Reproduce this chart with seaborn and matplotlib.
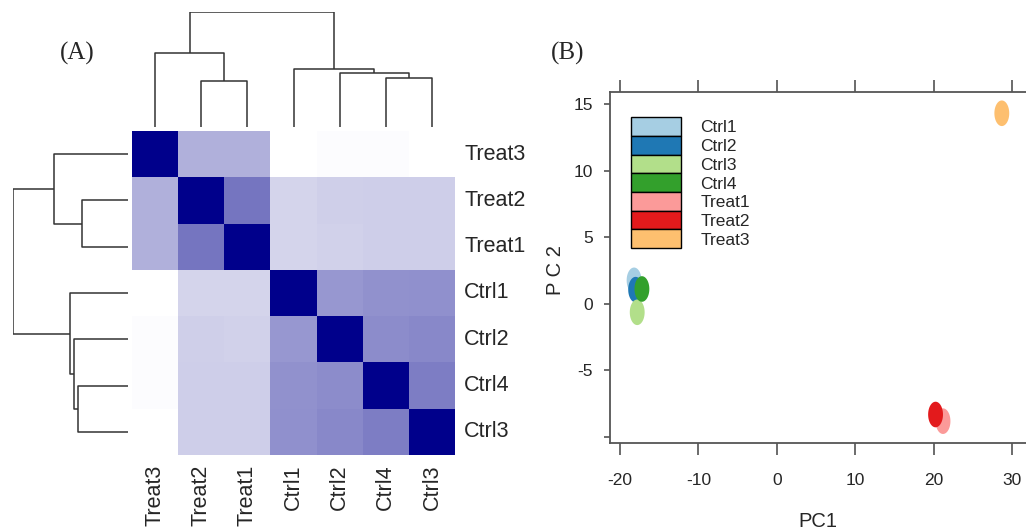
import numpy as np
import pandas as pd
import matplotlib
matplotlib.use("Agg")
import matplotlib.pyplot as plt
from matplotlib.colors import LinearSegmentedColormap
from matplotlib.patches import Patch
from matplotlib.path import Path
from matplotlib import font_manager
import seaborn as sns

# ---------------- data ----------------
samples_order = ["Treat3", "Treat2", "Treat1", "Ctrl1", "Ctrl2", "Ctrl4", "Ctrl3"]
corr_treat3 = [1.00, 0.31, 0.31, 0.00, 0.015, 0.015, 0.00]
corr_treat2 = [0.31, 1.00, 0.54, 0.17, 0.19, 0.195, 0.195]
corr_treat1 = [0.31, 0.54, 1.00, 0.17, 0.18, 0.195, 0.195]
corr_ctrl1 = [0.00, 0.17, 0.17, 1.00, 0.41, 0.43, 0.435]
corr_ctrl2 = [0.015, 0.19, 0.18, 0.41, 1.00, 0.45, 0.465]
corr_ctrl4 = [0.015, 0.195, 0.195, 0.43, 0.45, 1.00, 0.51]
corr_ctrl3 = [0.00, 0.195, 0.195, 0.435, 0.465, 0.51, 1.00]

# linkage merges: (left node, right node, height); leaves 0..6 in display order
merge_left = [1, 0, 5, 4, 3, 8]
merge_right = [2, 7, 6, 9, 10, 11]
merge_height = [0.46, 0.74, 0.494, 0.54, 0.58, 1.15]

pca_samples = ["Ctrl1", "Ctrl2", "Ctrl3", "Ctrl4", "Treat1", "Treat2", "Treat3"]
pca_pc1 = [-18.2, -18.0, -17.8, -17.2, 21.2, 20.25, 28.7]
pca_pc2 = [1.75, 1.05, -0.65, 1.1, -8.83, -8.33, 14.3]
x_ticks = [-20, -10, 0, 10, 20, 30]
y_ticks = [-10, -5, 0, 5, 10, 15]
y_ticklabels = ["", "-5", "0", "5", "10", "15"]

# ---------------- style ----------------
sns.set_style("white")
plt.rcParams["font.family"] = ["Liberation Sans", "DejaVu Sans"]
names = {f.name for f in font_manager.fontManager.ttflist}
narrow = "Liberation Sans Narrow" if "Liberation Sans Narrow" in names else "Liberation Sans"

W, H = 1026, 532
fig = plt.figure(figsize=(W / 100, H / 100), dpi=100)


def box(x0, y0, x1, y1):
    return [x0 / W, 1 - y1 / H, (x1 - x0) / W, (y1 - y0) / H]


# ---------------- heatmap ----------------
mat = pd.DataFrame([corr_treat3, corr_treat2, corr_treat1, corr_ctrl1,
                    corr_ctrl2, corr_ctrl4, corr_ctrl3],
                   index=samples_order, columns=samples_order)
cmap = LinearSegmentedColormap.from_list("wb", ["#FFFFFF", "#00008B"])
ax_hm = fig.add_axes(box(132, 131, 455, 455))
sns.heatmap(mat, cmap=cmap, vmin=0, vmax=1, cbar=False, ax=ax_hm,
            xticklabels=True, yticklabels=True)
ax_hm.yaxis.tick_right()
ax_hm.tick_params(axis="both", length=0, labelsize=15.5)
ax_hm.tick_params(axis="y", pad=6.5)
ax_hm.tick_params(axis="x", pad=7)
plt.setp(ax_hm.get_yticklabels(), rotation=0, va="center")
plt.setp(ax_hm.get_xticklabels(), rotation=90, ha="center")
ax_hm.set_xlabel("")
ax_hm.set_ylabel("")

# ---------------- dendrograms ----------------
n = len(samples_order)
pos = {i: i + 0.5 for i in range(n)}
hgt = {i: 0.0 for i in range(n)}
segs = []
for k, (a, b, h) in enumerate(zip(merge_left, merge_right, merge_height)):
    node = n + k
    segs.append(([pos[a], pos[a], pos[b], pos[b]], [hgt[a], h, h, hgt[b]]))
    pos[node] = (pos[a] + pos[b]) / 2
    hgt[node] = h

lc = "#333333"
ax_top = fig.add_axes(box(132, 12, 455, 127))
for xs, hs in segs:
    ax_top.plot(xs, hs, color=lc, lw=1.1, solid_capstyle="butt")
ax_top.set_xlim(0, n)
ax_top.set_ylim(0, max(merge_height))
ax_top.axis("off")

ax_left = fig.add_axes(box(12.7, 131, 127.7, 455))
for xs, hs in segs:
    ax_left.plot(hs, xs, color=lc, lw=1.1, solid_capstyle="butt")
ax_left.set_ylim(n, 0)
ax_left.set_xlim(max(merge_height), 0)
ax_left.axis("off")

# ---------------- PCA ----------------
palette = sns.color_palette("Paired", len(pca_samples))
pca = pd.DataFrame({"PC1": pca_pc1, "PC2": pca_pc2, "sample": pca_samples})
t = np.linspace(0, 2 * np.pi, 60)
ell = Path(np.column_stack([0.58 * np.cos(t), np.sin(t)]), closed=True)

ax_p = fig.add_axes(box(610, 91.7, 1032, 443))
sns.scatterplot(data=pca, x="PC1", y="PC2", hue="sample", hue_order=pca_samples,
                palette=palette, marker=ell, s=340, linewidth=0,
                edgecolor="none", legend=False, ax=ax_p, zorder=3)
ax_p.set_xlim(-21.27, 32.55)
ax_p.set_ylim(-10.47, 15.92)
ax_p.set_xticks(x_ticks)
ax_p.set_xticklabels([str(v) for v in x_ticks])
ax_p.set_yticks(y_ticks)
ax_p.set_yticklabels(y_ticklabels)
for side in ["left", "top", "bottom"]:
    ax_p.spines[side].set_color("#555555")
    ax_p.spines[side].set_linewidth(1.3)
ax_p.spines["right"].set_visible(False)
ax_p.tick_params(axis="x", which="both", top=True, bottom=True, labeltop=False,
                 direction="out", length=8.6, width=1.1, color="#444444", pad=13,
                 labelsize=12.5)
ax_p.tick_params(axis="y", left=True, right=False, direction="out", length=4.3,
                 width=1.1, color="#444444", pad=8, labelsize=12.5)
for lab in ax_p.get_xticklabels() + ax_p.get_yticklabels():
    lab.set_fontfamily(narrow)
ax_p.set_xlabel("PC1", fontsize=14.5, family=narrow, va="center")
ax_p.set_ylabel("P C 2", fontsize=14.5, family=narrow, va="center")
ax_p.xaxis.set_label_coords(0.493, -0.224)
ax_p.yaxis.set_label_coords(-0.128, 0.4925)

handles = [Patch(facecolor=c, edgecolor="black", linewidth=1.0) for c in palette]
fs = 12.5
leg = ax_p.legend(handles, pca_samples, loc="upper left",
                  bbox_to_anchor=(630.7 / W, 1 - 117.3 / H),
                  bbox_transform=fig.transFigure, frameon=False, fontsize=fs,
                  borderpad=0, borderaxespad=0, handlelength=2.9,
                  handleheight=1.28, handletextpad=1.1, labelspacing=0)

# ---------------- panel labels ----------------
fig.text(77 / W, 1 - 53 / H, "(A)", family=["Liberation Serif", "DejaVu Serif"],
         fontsize=18, ha="center", va="center")
fig.text(568 / W, 1 - 53 / H, "(B)", family=["Liberation Serif", "DejaVu Serif"],
         fontsize=18, ha="center", va="center")

fig.savefig("out.png", dpi=100)
